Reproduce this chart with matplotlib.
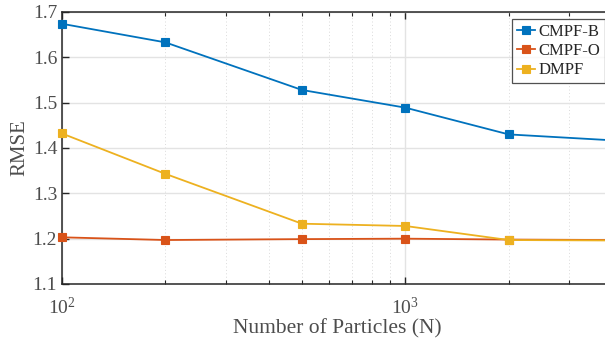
import matplotlib
matplotlib.use("Agg")
import matplotlib.pyplot as plt
from matplotlib.ticker import LogLocator, NullFormatter, FixedLocator

plt.rcParams['font.family'] = ['Liberation Serif', 'DejaVu Serif']

particles = [100, 200, 500, 1000, 2000, 4000]
cmpf_b = [1.674, 1.633, 1.528, 1.489, 1.430, 1.417]
cmpf_o = [1.203, 1.197, 1.199, 1.200, 1.198, 1.197]
dmpf = [1.432, 1.343, 1.233, 1.228, 1.197, 1.196]
series_names = ['CMPF-B', 'CMPF-O', 'DMPF']
colors = ['#0072BD', '#D95319', '#EDB120']
yticks = [1.1, 1.2, 1.3, 1.4, 1.5, 1.6, 1.7]

fig = plt.figure(figsize=(6.05, 3.45), dpi=100)
ax = fig.add_axes([62/605, 61/345, (612-62)/605, (284-12)/345])

for vals, name, c in zip([cmpf_b, cmpf_o, dmpf], series_names, colors):
    ax.plot(particles, vals, '-s', color=c, lw=1.3, markersize=6, label=name,
            markeredgewidth=0.8, clip_on=False, zorder=3)

ax.set_xscale('log')
ax.set_xlim(100, 4000)
ax.set_ylim(1.1, 1.7)
ax.yaxis.set_major_locator(FixedLocator(yticks))
ax.set_yticklabels([f'{v:.1f}' for v in yticks])
ax.xaxis.set_major_locator(LogLocator(base=10))
ax.xaxis.set_minor_locator(LogLocator(base=10, subs=range(2, 10)))
ax.xaxis.set_minor_formatter(NullFormatter())

ax.grid(True, which='major', axis='both', color='#e3e3e3', lw=1.0, zorder=0)
ax.grid(True, which='minor', axis='x', color='#dadada', lw=0.7, ls=(0, (1, 2.5)), zorder=0)
ax.set_axisbelow(True)

for s in ['left', 'bottom', 'top', 'right']:
    ax.spines[s].set_color('#262626')
    ax.spines[s].set_linewidth(1.1)

ax.tick_params(which='both', direction='in', top=True, right=False, colors='#262626',
               labelcolor='#4d4d4d', labelsize=14)
ax.tick_params(which='major', length=5, width=1.0)
ax.tick_params(which='minor', length=3, width=0.8)
ax.tick_params(axis='x', pad=9)

ax.set_ylabel('RMSE', fontsize=15, color='#4d4d4d', labelpad=2)
ax.set_xlabel('Number of Particles (N)', fontsize=15.5, color='#4d4d4d', labelpad=1)

leg = ax.legend(loc='upper right', fontsize=12, frameon=True, fancybox=False,
                edgecolor='#262626', borderpad=0.3, labelspacing=0.2,
                handlelength=1.1, handletextpad=0.2, borderaxespad=0.4)
leg.get_frame().set_linewidth(0.9)
for t in leg.get_texts():
    t.set_color('#262626')

fig.savefig('out.png', dpi=100)
